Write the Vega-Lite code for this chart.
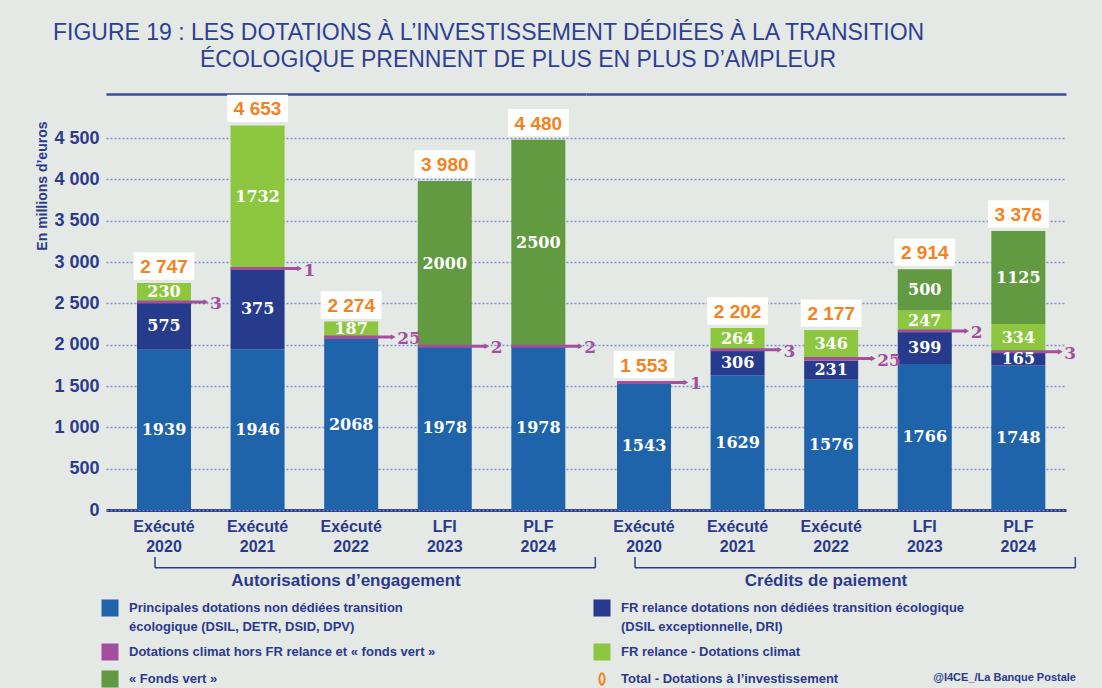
{
  "$schema": "https://vega.github.io/schema/vega-lite/v6.json",
  "background": "#e4e9e6",
  "padding": {"left": 35, "top": 22, "right": 35, "bottom": 0},
  "bounds": "flush",
  "title": {
    "text": ["FIGURE 19 : LES DOTATIONS À L’INVESTISSEMENT DÉDIÉES À LA TRANSITION", "\u200b\u00a0\u00a0\u00a0\u00a0\u00a0\u00a0\u00a0\u00a0\u00a0\u00a0\u00a0\u00a0\u00a0\u00a0\u00a0\u00a0\u00a0\u00a0\u00a0\u00a0\u00a0\u00a0\u00a0ÉCOLOGIQUE PRENNENT DE PLUS EN PLUS D’AMPLEUR"],
    "anchor": "start",
    "frame": "bounds",
    "dx": 17,
    "font": "Liberation Sans",
    "fontSize": 23,
    "fontWeight": "normal",
    "color": "#2f3f93",
    "lineHeight": 27,
    "offset": 22
  },
  "data": {
    "values": [
      {"groupe": "Autorisations d’engagement", "cat": "Exécuté 2020", "serie": "Principales dotations non dédiées transition écologique (DSIL, DETR, DSID, DPV)", "value": 1939, "label": 1939},
      {"groupe": "Autorisations d’engagement", "cat": "Exécuté 2020", "serie": "FR relance dotations non dédiées transition écologique (DSIL exceptionnelle, DRI)", "value": 575, "label": 575},
      {"groupe": "Autorisations d’engagement", "cat": "Exécuté 2020", "serie": "Dotations climat hors FR relance et « fonds vert »", "value": 3, "label": 3},
      {"groupe": "Autorisations d’engagement", "cat": "Exécuté 2020", "serie": "FR relance - Dotations climat", "value": 230, "label": 230},
      {"groupe": "Autorisations d’engagement", "cat": "Exécuté 2020", "serie": "Total - Dotations à l’investissement", "value": 2747, "label": 2747},
      {"groupe": "Autorisations d’engagement", "cat": "Exécuté 2021", "serie": "Principales dotations non dédiées transition écologique (DSIL, DETR, DSID, DPV)", "value": 1946, "label": 1946},
      {"groupe": "Autorisations d’engagement", "cat": "Exécuté 2021", "serie": "FR relance dotations non dédiées transition écologique (DSIL exceptionnelle, DRI)", "value": 974, "label": 375},
      {"groupe": "Autorisations d’engagement", "cat": "Exécuté 2021", "serie": "Dotations climat hors FR relance et « fonds vert »", "value": 1, "label": 1},
      {"groupe": "Autorisations d’engagement", "cat": "Exécuté 2021", "serie": "FR relance - Dotations climat", "value": 1732, "label": 1732},
      {"groupe": "Autorisations d’engagement", "cat": "Exécuté 2021", "serie": "Total - Dotations à l’investissement", "value": 4653, "label": 4653},
      {"groupe": "Autorisations d’engagement", "cat": "Exécuté 2022", "serie": "Principales dotations non dédiées transition écologique (DSIL, DETR, DSID, DPV)", "value": 2068, "label": 2068},
      {"groupe": "Autorisations d’engagement", "cat": "Exécuté 2022", "serie": "Dotations climat hors FR relance et « fonds vert »", "value": 25, "label": 25},
      {"groupe": "Autorisations d’engagement", "cat": "Exécuté 2022", "serie": "FR relance - Dotations climat", "value": 187, "label": 187},
      {"groupe": "Autorisations d’engagement", "cat": "Exécuté 2022", "serie": "Total - Dotations à l’investissement", "value": 2274, "label": 2274},
      {"groupe": "Autorisations d’engagement", "cat": "LFI 2023", "serie": "Principales dotations non dédiées transition écologique (DSIL, DETR, DSID, DPV)", "value": 1978, "label": 1978},
      {"groupe": "Autorisations d’engagement", "cat": "LFI 2023", "serie": "Dotations climat hors FR relance et « fonds vert »", "value": 2, "label": 2},
      {"groupe": "Autorisations d’engagement", "cat": "LFI 2023", "serie": "« Fonds vert »", "value": 2000, "label": 2000},
      {"groupe": "Autorisations d’engagement", "cat": "LFI 2023", "serie": "Total - Dotations à l’investissement", "value": 3980, "label": 3980},
      {"groupe": "Autorisations d’engagement", "cat": "PLF 2024", "serie": "Principales dotations non dédiées transition écologique (DSIL, DETR, DSID, DPV)", "value": 1978, "label": 1978},
      {"groupe": "Autorisations d’engagement", "cat": "PLF 2024", "serie": "Dotations climat hors FR relance et « fonds vert »", "value": 2, "label": 2},
      {"groupe": "Autorisations d’engagement", "cat": "PLF 2024", "serie": "« Fonds vert »", "value": 2500, "label": 2500},
      {"groupe": "Autorisations d’engagement", "cat": "PLF 2024", "serie": "Total - Dotations à l’investissement", "value": 4480, "label": 4480},
      {"groupe": "Crédits de paiement", "cat": "Exécuté 2020", "serie": "Principales dotations non dédiées transition écologique (DSIL, DETR, DSID, DPV)", "value": 1543, "label": 1543},
      {"groupe": "Crédits de paiement", "cat": "Exécuté 2020", "serie": "Dotations climat hors FR relance et « fonds vert »", "value": 1, "label": 1},
      {"groupe": "Crédits de paiement", "cat": "Exécuté 2020", "serie": "Total - Dotations à l’investissement", "value": 1553, "label": 1553},
      {"groupe": "Crédits de paiement", "cat": "Exécuté 2021", "serie": "Principales dotations non dédiées transition écologique (DSIL, DETR, DSID, DPV)", "value": 1629, "label": 1629},
      {"groupe": "Crédits de paiement", "cat": "Exécuté 2021", "serie": "FR relance dotations non dédiées transition écologique (DSIL exceptionnelle, DRI)", "value": 306, "label": 306},
      {"groupe": "Crédits de paiement", "cat": "Exécuté 2021", "serie": "Dotations climat hors FR relance et « fonds vert »", "value": 3, "label": 3},
      {"groupe": "Crédits de paiement", "cat": "Exécuté 2021", "serie": "FR relance - Dotations climat", "value": 264, "label": 264},
      {"groupe": "Crédits de paiement", "cat": "Exécuté 2021", "serie": "Total - Dotations à l’investissement", "value": 2202, "label": 2202},
      {"groupe": "Crédits de paiement", "cat": "Exécuté 2022", "serie": "Principales dotations non dédiées transition écologique (DSIL, DETR, DSID, DPV)", "value": 1576, "label": 1576},
      {"groupe": "Crédits de paiement", "cat": "Exécuté 2022", "serie": "FR relance dotations non dédiées transition écologique (DSIL exceptionnelle, DRI)", "value": 231, "label": 231},
      {"groupe": "Crédits de paiement", "cat": "Exécuté 2022", "serie": "Dotations climat hors FR relance et « fonds vert »", "value": 25, "label": 25},
      {"groupe": "Crédits de paiement", "cat": "Exécuté 2022", "serie": "FR relance - Dotations climat", "value": 346, "label": 346},
      {"groupe": "Crédits de paiement", "cat": "Exécuté 2022", "serie": "Total - Dotations à l’investissement", "value": 2177, "label": 2177},
      {"groupe": "Crédits de paiement", "cat": "LFI 2023", "serie": "Principales dotations non dédiées transition écologique (DSIL, DETR, DSID, DPV)", "value": 1766, "label": 1766},
      {"groupe": "Crédits de paiement", "cat": "LFI 2023", "serie": "FR relance dotations non dédiées transition écologique (DSIL exceptionnelle, DRI)", "value": 399, "label": 399},
      {"groupe": "Crédits de paiement", "cat": "LFI 2023", "serie": "Dotations climat hors FR relance et « fonds vert »", "value": 2, "label": 2},
      {"groupe": "Crédits de paiement", "cat": "LFI 2023", "serie": "FR relance - Dotations climat", "value": 247, "label": 247},
      {"groupe": "Crédits de paiement", "cat": "LFI 2023", "serie": "« Fonds vert »", "value": 500, "label": 500},
      {"groupe": "Crédits de paiement", "cat": "LFI 2023", "serie": "Total - Dotations à l’investissement", "value": 2914, "label": 2914},
      {"groupe": "Crédits de paiement", "cat": "PLF 2024", "serie": "Principales dotations non dédiées transition écologique (DSIL, DETR, DSID, DPV)", "value": 1748, "label": 1748},
      {"groupe": "Crédits de paiement", "cat": "PLF 2024", "serie": "FR relance dotations non dédiées transition écologique (DSIL exceptionnelle, DRI)", "value": 165, "label": 165},
      {"groupe": "Crédits de paiement", "cat": "PLF 2024", "serie": "Dotations climat hors FR relance et « fonds vert »", "value": 3, "label": 3},
      {"groupe": "Crédits de paiement", "cat": "PLF 2024", "serie": "FR relance - Dotations climat", "value": 334, "label": 334},
      {"groupe": "Crédits de paiement", "cat": "PLF 2024", "serie": "« Fonds vert »", "value": 1125, "label": 1125},
      {"groupe": "Crédits de paiement", "cat": "PLF 2024", "serie": "Total - Dotations à l’investissement", "value": 3376, "label": 3376}
    ]
  },
  "transform": [
    {"calculate": "indexof(['Principales dotations non dédiées transition écologique (DSIL, DETR, DSID, DPV)', 'FR relance dotations non dédiées transition écologique (DSIL exceptionnelle, DRI)', 'Dotations climat hors FR relance et « fonds vert »', 'FR relance - Dotations climat', '« Fonds vert »', 'Total - Dotations à l’investissement'], datum.serie)", "as": "rang"},
    {"calculate": "datum.rang == 5", "as": "isTot"},
    {"stack": "value", "groupby": ["groupe", "cat", "isTot"], "sort": [{"field": "rang", "order": "ascending"}], "as": ["v0", "v1"]},
    {"calculate": "(datum.v0 + datum.v1) / 2", "as": "mid"}
  ],
  "facet": {
    "column": {
      "field": "groupe",
      "type": "nominal",
      "sort": ["Autorisations d’engagement", "Crédits de paiement"],
      "title": "@I4CE_/La Banque Postale",
      "header": {
        "labelOrient": "bottom",
        "labelFont": "Liberation Sans",
        "labelFontSize": 17,
        "labelFontWeight": "bold",
        "labelColor": "#2b3a8c",
        "labelPadding": 19,
        "titleOrient": "bottom",
        "titleAnchor": "end",
        "titleFont": "Liberation Sans",
        "titleFontSize": 11,
        "titleFontWeight": "bold",
        "titleColor": "#2b3a8c",
        "titlePadding": 73
      }
    }
  },
  "spacing": 0,
  "spec": {
    "width": 480,
    "height": 405,
    "resolve": {"axis": {"x": "independent"}},
    "layer": [
      {
        "transform": [{"filter": "!datum.isTot"}],
        "mark": {"type": "bar"},
        "encoding": {
          "x": {
            "field": "cat",
            "type": "nominal",
            "scale": {"domain": ["Exécuté 2020", "Exécuté 2021", "Exécuté 2022", "LFI 2023", "PLF 2024"], "paddingInner": 0.423, "paddingOuter": 0.276, "align": 0.6},
            "axis": {"title": null, "labelAngle": 0, "labelExpr": "split(datum.label, ' ')"}
          },
          "y": {
            "field": "v0",
            "type": "quantitative",
            "scale": {"domain": [0, 4900], "nice": false},
            "axis": {"title": "En millions d’euros", "values": [0, 500, 1000, 1500, 2000, 2500, 3000, 3500, 4000, 4500], "format": ",.0f", "titleY": 16}
          },
          "y2": {"field": "v1"},
          "color": {
            "field": "serie",
            "type": "nominal",
            "scale": {
              "domain": ["Principales dotations non dédiées transition écologique (DSIL, DETR, DSID, DPV)", "FR relance dotations non dédiées transition écologique (DSIL exceptionnelle, DRI)", "Dotations climat hors FR relance et « fonds vert »", "FR relance - Dotations climat", "« Fonds vert »", "Total - Dotations à l’investissement"],
              "range": ["#1f64ab", "#273b8c", "#a34f9e", "#8dc63f", "#629a41", "#f58220"]
            },
            "legend": {
              "title": null,
              "orient": "none",
              "legendX": -5,
              "legendY": 494,
              "direction": "horizontal",
              "columns": 2,
              "columnPadding": 157,
              "rowPadding": 9,
              "symbolType": "square",
              "symbolSize": 290,
              "symbolStrokeWidth": 0,
              "symbolOpacity": 1,
              "labelFont": "Liberation Sans",
              "labelFontSize": 13,
              "labelFontWeight": "bold",
              "labelColor": "#2b3a8c",
              "labelLimit": 600,
              "labelOffset": 10,
              "labelExpr": "datum.label == 'Principales dotations non dédiées transition écologique (DSIL, DETR, DSID, DPV)' ? ['Principales dotations non dédiées transition', 'écologique (DSIL, DETR, DSID, DPV)'] : datum.label == 'FR relance dotations non dédiées transition écologique (DSIL exceptionnelle, DRI)' ? ['FR relance dotations non dédiées transition écologique', '(DSIL exceptionnelle, DRI)'] : datum.label",
              "encode": {
                "labels": {"update": {"lineHeight": {"value": 19}}},
                "symbols": {
                  "update": {
                    "shape": {"signal": "datum.value == 'Total - Dotations à l’investissement' ? 'M0,-0.8A0.42,0.8 0 1,1 0,0.8A0.42,0.8 0 1,1 0,-0.8ZM0,-0.52A0.18,0.52 0 1,0 0,0.52A0.18,0.52 0 1,0 0,-0.52Z' : 'square'"}
                  }
                }
              }
            }
          }
        }
      },
      {
        "transform": [{"filter": "datum.rang == 2"}],
        "mark": {"type": "tick", "orient": "horizontal", "color": "#a34f9e", "thickness": 3, "size": 68, "xOffset": 7, "opacity": 1},
        "encoding": {
          "x": {"field": "cat", "type": "nominal", "axis": {"orient": "top", "title": null, "labels": false, "ticks": false, "grid": false, "domain": true, "domainColor": "#3a4a9a", "domainWidth": 2.5, "offset": 11}},
          "y": {"field": "v1", "type": "quantitative"}
        }
      },
      {
        "transform": [{"filter": "datum.rang == 2"}],
        "mark": {"type": "point", "shape": "triangle-right", "filled": true, "color": "#a34f9e", "size": 30, "opacity": 1, "xOffset": 42},
        "encoding": {
          "x": {"field": "cat", "type": "nominal", "axis": null},
          "y": {"field": "v1", "type": "quantitative"}
        }
      },
      {
        "transform": [{"filter": "datum.rang == 2"}],
        "mark": {"type": "text", "align": "left", "baseline": "middle", "dx": 46, "dy": 2, "font": "DejaVu Serif", "fontSize": 17, "fontWeight": "bold", "color": "#a34f9e"},
        "encoding": {
          "x": {"field": "cat", "type": "nominal", "axis": null},
          "y": {"field": "v1", "type": "quantitative"},
          "text": {"field": "label", "type": "quantitative", "format": "d"}
        }
      },
      {
        "transform": [{"filter": "datum.rang < 5 && datum.rang != 2"}],
        "mark": {"type": "text", "align": "center", "baseline": "middle", "font": "DejaVu Serif", "fontSize": 16, "fontWeight": "bold", "color": "white"},
        "encoding": {
          "x": {"field": "cat", "type": "nominal", "axis": null},
          "y": {"field": "mid", "type": "quantitative"},
          "text": {"field": "label", "type": "quantitative", "format": "d"}
        }
      },
      {
        "transform": [{"filter": "datum.isTot"}],
        "mark": {"type": "point", "shape": "M-1,-0.45L1,-0.45L1,0.45L-1,0.45Z", "filled": true, "color": "white", "size": 3700, "opacity": 1, "yOffset": -17},
        "encoding": {
          "x": {"field": "cat", "type": "nominal", "axis": null},
          "y": {"field": "value", "type": "quantitative"}
        }
      },
      {
        "transform": [{"filter": "datum.isTot"}],
        "mark": {"type": "text", "align": "center", "baseline": "middle", "font": "Liberation Sans", "fontSize": 19, "fontWeight": "bold", "yOffset": -16},
        "encoding": {
          "x": {"field": "cat", "type": "nominal", "axis": null},
          "y": {"field": "value", "type": "quantitative"},
          "text": {"field": "value", "type": "quantitative", "format": ",.0f"},
          "color": {"field": "serie", "type": "nominal"}
        }
      },
      {
        "transform": [{"filter": "datum.isTot && datum.cat == 'Exécuté 2020'"}],
        "mark": {"type": "rule", "color": "#2b3a8c", "strokeWidth": 1.5, "xOffset": -9, "x2Offset": 57},
        "encoding": {
          "x": {"datum": "Exécuté 2020", "type": "nominal", "axis": null},
          "x2": {"datum": "PLF 2024"},
          "y": {"datum": -700, "type": "quantitative"}
        }
      },
      {
        "transform": [{"filter": "datum.isTot && datum.cat == 'Exécuté 2020'"}],
        "mark": {"type": "rule", "color": "#2b3a8c", "strokeWidth": 1.5, "xOffset": -9},
        "encoding": {
          "x": {"datum": "Exécuté 2020", "type": "nominal", "axis": null},
          "y": {"datum": -700, "type": "quantitative"},
          "y2": {"datum": -570}
        }
      },
      {
        "transform": [{"filter": "datum.isTot && datum.cat == 'Exécuté 2020'"}],
        "mark": {"type": "rule", "color": "#2b3a8c", "strokeWidth": 1.5, "xOffset": 57},
        "encoding": {
          "x": {"datum": "PLF 2024", "type": "nominal", "axis": null},
          "y": {"datum": -700, "type": "quantitative"},
          "y2": {"datum": -570}
        }
      }
    ]
  },
  "config": {
    "font": "Liberation Sans",
    "locale": {"number": {"decimal": ",", "thousands": " ", "grouping": [3], "currency": ["", " €"]}},
    "view": {"stroke": null},
    "axisX": {
      "domainColor": "#2b3a8c",
      "domainWidth": 3,
      "ticks": false,
      "grid": false,
      "labelFont": "Liberation Sans",
      "labelFontSize": 16,
      "labelFontWeight": "bold",
      "labelColor": "#2b3a8c",
      "labelPadding": 8,
      "labelLineHeight": 20
    },
    "axisY": {
      "domain": false,
      "ticks": false,
      "grid": true,
      "gridColor": "#7b8fd6",
      "gridDash": [2, 2],
      "gridWidth": 1.5,
      "labelFont": "Liberation Sans",
      "labelFontSize": 18,
      "labelFontWeight": "bold",
      "labelColor": "#2b3a8c",
      "labelPadding": 7,
      "titleFont": "Liberation Sans",
      "titleFontSize": 14,
      "titleFontWeight": "bold",
      "titleColor": "#2b3a8c",
      "titleAnchor": "end",
      "titlePadding": 4
    }
  }
}
